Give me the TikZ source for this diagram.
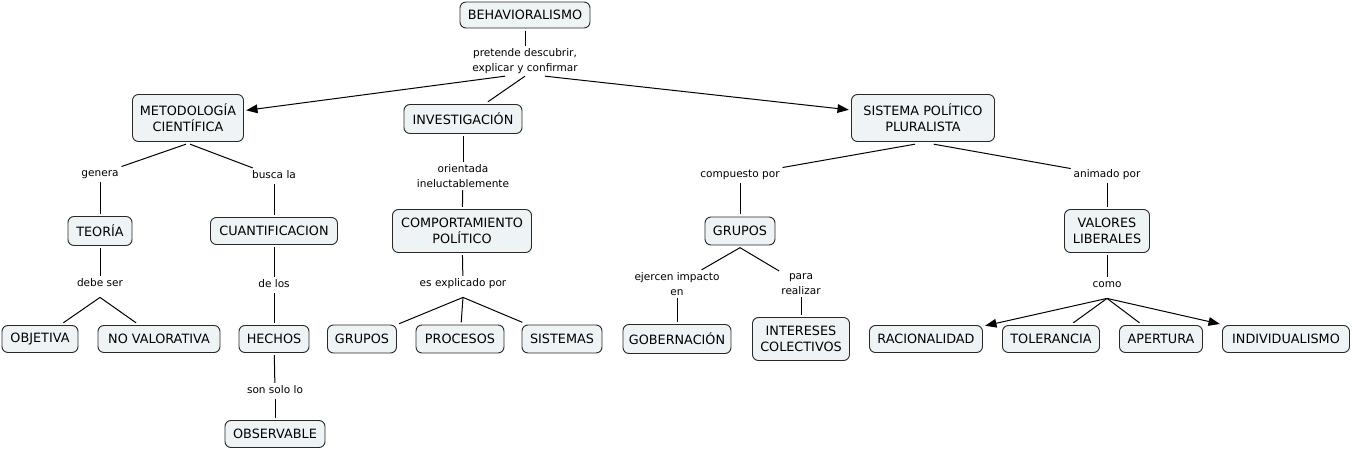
\documentclass[tikz,border=0pt]{standalone}
\usepackage{fontspec}
\setmainfont{DejaVu Sans}
\usetikzlibrary{arrows.meta}
\definecolor{cfill}{RGB}{238,244,246}
\definecolor{cline}{RGB}{40,40,40}
\begin{document}
\begin{tikzpicture}[x=0.75pt,y=-0.75pt,
 concept/.style 2 args={draw=cline, fill=cfill, rounded corners=4.5pt, line width=0.7pt,
   minimum width=#1*0.75pt, minimum height=#2*0.75pt, inner sep=0pt, outer sep=2pt,
   align=center, font=\fontsize{9.6}{12}\selectfont},
 phrase/.style={inner xsep=2pt, inner ysep=2pt, align=center, font=\fontsize{7.9}{10.7}\selectfont},
 phraseone/.style={phrase, text height=6pt, text depth=1.7pt},
 link/.style={draw=black, line width=0.75pt},
 arr/.style={link, -{Triangle[length=8.5pt,width=6.5pt]}}
]
\useasboundingbox (0,0) rectangle (1352,450);

% concepts
\node[concept={130}{26}] (behav) at (525,15) {BEHAVIORALISMO};
\node[concept={111}{47}] (metod) at (188,118) {METODOLOGÍA\\CIENTÍFICA};
\node[concept={118}{29}] (invest) at (463,119) {INVESTIGACIÓN};
\node[concept={143}{47}] (sist) at (923,118) {SISTEMA POLÍTICO\\PLURALISTA};
\node[concept={64}{29}] (teoria) at (100,231) {TEORÍA};
\node[concept={127}{27}] (cuant) at (274,231) {CUANTIFICACION};
\node[concept={76}{27}] (objetiva) at (40,339) {OBJETIVA};
\node[concept={122}{27}] (novalor) at (159,339) {NO VALORATIVA};
\node[concept={70}{27}] (hechos) at (274,339) {HECHOS};
\node[concept={100}{27}] (observ) at (275,434) {OBSERVABLE};
\node[concept={139}{43}] (comport) at (462,231) {COMPORTAMIENTO\\POLÍTICO};
\node[concept={69}{28}] (grupos1) at (362,339) {GRUPOS};
\node[concept={88}{28}] (procesos) at (460,339) {PROCESOS};
\node[concept={80}{28}] (sistemas) at (562,339) {SISTEMAS};
\node[concept={70}{28}] (grupos2) at (740,231) {GRUPOS};
\node[concept={108}{29}] (gobern) at (677,339) {GOBERNACIÓN};
\node[concept={97}{43}] (intereses) at (801,339) {INTERESES\\COLECTIVOS};
\node[concept={85}{43}] (valores) at (1107,231) {VALORES\\LIBERALES};
\node[concept={113}{27}] (racional) at (926,339) {RACIONALIDAD};
\node[concept={97}{27}] (toler) at (1051,339) {TOLERANCIA};
\node[concept={83}{27}] (apertura) at (1161,339) {APERTURA};
\node[concept={127}{27}] (individ) at (1286,339) {INDIVIDUALISMO};

% linking phrases
\node[phrase] (l1) at (525,61) {pretende descubrir,\\explicar y confirmar};
\node[phraseone] (genera) at (100,174) {genera};
\node[phraseone] (busca) at (274,176) {busca la};
\node[phraseone] (debe) at (100,284) {debe ser};
\node[phraseone] (delos) at (274,285) {de los};
\node[phraseone] (sonsolo) at (275,391) {son solo lo};
\node[phrase] (orient) at (463,176) {orientada\\ineluctablemente};
\node[phraseone] (explic) at (463,284) {es explicado por};
\node[phraseone] (compuesto) at (740,175) {compuesto por};
\node[phraseone] (animado) at (1107,175) {animado por};
\node[phrase] (ejercen) at (677,284) {ejercen impacto\\en};
\node[phrase] (para) at (801,284) {para\\realizar};
\node[phraseone] (como) at (1107,285) {como};

% branch points
\coordinate (bdebe) at ([yshift=-4pt]debe.south);
\coordinate (bexplic) at ([yshift=-4pt]explic.south);
\coordinate (bcomo) at ([yshift=-4pt]como.south);

% connectors
\draw[link] (behav) -- (l1);
\draw[arr] ([xshift=-15pt]l1.south) -- (metod);
\draw[link] (l1.south) -- (invest);
\draw[arr] ([xshift=15pt]l1.south) -- (sist);

\draw[link] ([xshift=-1.5pt]metod.south) -- (genera);
\draw[link] ([xshift=1.5pt]metod.south) -- (busca);
\draw[link] (genera) -- (teoria);
\draw[link] (busca) -- (cuant);
\draw[link] (teoria) -- (debe);
\draw[link] (bdebe) -- (objetiva);
\draw[link] (bdebe) -- (novalor);
\draw[link] (cuant) -- (delos);
\draw[link] (delos) -- (hechos);
\draw[link] (hechos) -- (sonsolo);
\draw[link] (sonsolo) -- (observ);

\draw[link] (invest) -- (orient);
\draw[link] (orient) -- (comport);
\draw[link] (comport) -- (explic);
\draw[link] (bexplic) -- (grupos1);
\draw[link] (bexplic) -- (procesos);
\draw[link] (bexplic) -- (sistemas);

\draw[link] ([xshift=-6pt]sist.south) -- (compuesto);
\draw[link] ([xshift=8pt]sist.south) -- (animado);
\draw[link] (compuesto) -- (grupos2);
\draw[link] (grupos2.south) -- (ejercen);
\draw[link] (grupos2.south) -- (para);
\draw[link] (ejercen) -- (gobern);
\draw[link] (para) -- (intereses);

\draw[link] (animado) -- (valores);
\draw[link] (valores) -- (como);
\draw[arr] (bcomo) -- (racional);
\draw[link] (bcomo) -- (toler);
\draw[link] (bcomo) -- (apertura);
\draw[arr] (bcomo) -- (individ);
\end{tikzpicture}
\end{document}
